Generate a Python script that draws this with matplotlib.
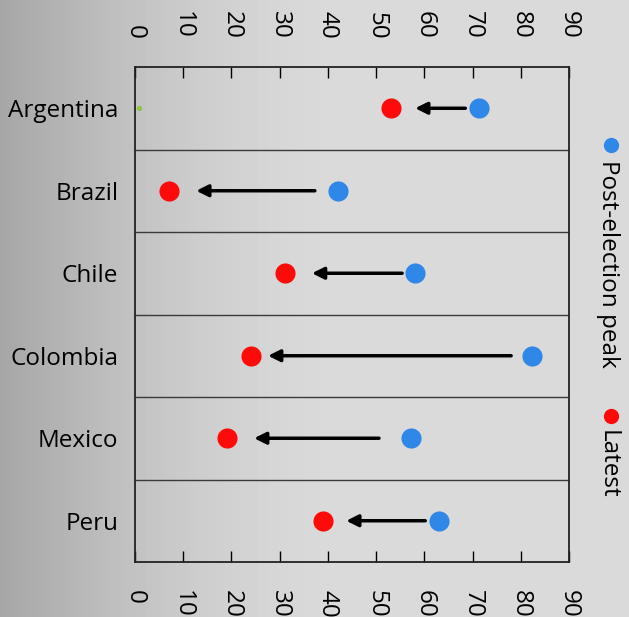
import numpy as np
import matplotlib
matplotlib.use("Agg")
import matplotlib.pyplot as plt

plt.rcParams['font.family'] = ['Open Sans', 'DejaVu Sans']

countries = ['Argentina', 'Brazil', 'Chile', 'Colombia', 'Mexico', 'Peru']
peak = [71.4, 42.1, 58.1, 82.4, 57.3, 63.1]
latest = [53.1, 7.0, 31.1, 24.1, 19.1, 39.0]
arrow_from = [68.5, 37.3, 55.4, 78.0, 50.6, 60.2]
arrow_to = [58.1, 12.7, 36.7, 27.6, 24.7, 43.8]
stray_x = [0.8]
stray_y = ['Argentina']
xticks = list(range(0, 100, 10))

blue = '#2F87E8'
red = '#FF0A0A'
fs = 17.5

fig = plt.figure(figsize=(6.29, 6.17), dpi=100)

# grey gradient behind everything, darker at the left
bg = fig.add_axes([0, 0, 1, 1], zorder=-10)
xs = np.linspace(0, 1, 629)
shade = 0.855 - 0.205 * np.clip(1 - xs / 0.55, 0, 1) ** 1.6
bg.imshow(np.tile(shade, (10, 1)), cmap='gray', vmin=0, vmax=1,
          aspect='auto', extent=[0, 1, 0, 1])
bg.axis('off')

ax = fig.add_axes([135 / 629, 1 - 562 / 617, 434 / 629, 495 / 617])
ax.patch.set_alpha(0)

ypos = np.arange(len(countries))
for i in range(len(countries)):
    ax.annotate('', xy=(arrow_to[i], ypos[i]), xytext=(arrow_from[i], ypos[i]),
                arrowprops=dict(arrowstyle='-|>,head_length=0.7,head_width=0.35',
                                lw=2.5, color='black', shrinkA=0, shrinkB=0),
                zorder=2)
ax.scatter(peak, ypos, s=210, color=blue, zorder=3, linewidths=0)
ax.scatter(latest, ypos, s=210, color=red, zorder=3, linewidths=0)
ax.scatter(stray_x, [countries.index(c) for c in stray_y], s=14,
           color='#8DC63F', zorder=3, linewidths=0)

for k in range(len(countries) - 1):
    ax.axhline(k + 0.5, color='#3a3a3a', lw=1, zorder=1)

ax.set_xlim(0, 90)
ax.set_ylim(len(countries) - 0.5, -0.5)
ax.set_yticks(ypos)
ax.set_yticklabels(countries, fontsize=fs)
ax.tick_params(axis='y', length=0, pad=12)
ax.set_xticks(xticks)
ax.set_xticklabels([str(t) for t in xticks], rotation=270, fontsize=fs)
ax.tick_params(axis='x', direction='in', length=8, width=1, top=True,
               labeltop=True, bottom=True, labelbottom=True, pad=20)
for s in ax.spines.values():
    s.set_linewidth(1.3)
    s.set_color('#222222')

# legend drawn by hand, rotated like the rest of the chart
fig.text(608 / 629, 1 - 160 / 617, 'Post-election peak', rotation=270,
         ha='center', va='top', fontsize=fs)
fig.text(608 / 629, 1 - 430 / 617, 'Latest', rotation=270,
         ha='center', va='top', fontsize=fs)
fig.add_artist(plt.Line2D([611 / 629], [1 - 145 / 617], marker='o', ms=11,
                          color=blue, mew=0, transform=fig.transFigure))
fig.add_artist(plt.Line2D([611 / 629], [1 - 416 / 617], marker='o', ms=11,
                          color=red, mew=0, transform=fig.transFigure))

fig.savefig('out.png', dpi=100)
